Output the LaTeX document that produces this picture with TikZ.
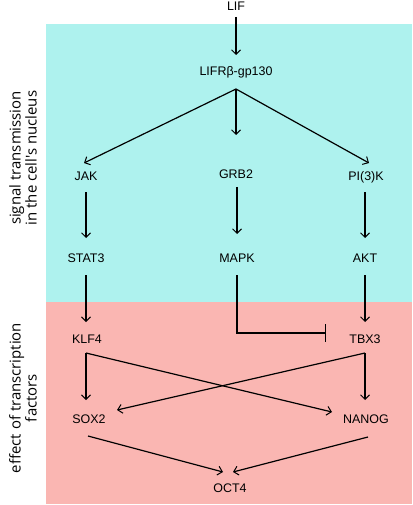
\documentclass[tikz,border=0pt]{standalone}
\usepackage{fontspec}
\setmainfont{Liberation Sans}
\newfontfamily\sidefont{Open Sans}
\usetikzlibrary{arrows.meta,calc}
\definecolor{cyanbg}{RGB}{174,242,238}
\definecolor{pinkbg}{RGB}{250,182,178}
\begin{document}
\begin{tikzpicture}[x=1bp,y=-1bp,
  lbl/.style={inner sep=0pt,text height=9bp,text depth=0pt,font=\fontsize{12.5}{14}\selectfont},
  side/.style={rotate=90,align=center,inner sep=0pt,font=\sidefont\fontsize{15}{12.5}\selectfont},
  conn/.style={line width=1.2bp,-{Straight Barb[length=4.5bp,width=9bp,line width=1bp]}},
  inhib/.style={line width=1.2bp,-{Bar[width=18bp,line width=1.4bp]}}]
\useasboundingbox (0,0) rectangle (412,505);
\fill[cyanbg] (46,24) rectangle (412,302);
\fill[pinkbg] (46,302) rectangle (412,504);
\node[side] (sideA) at (23,158) {signal transmission\\in the cell's nucleus};
\node[side] (sideB) at (23,398) {effect of transcription\\factors};
\node[lbl] (lif) at (236,6) {LIF};
\node[lbl] (lifr) at (236,71) {LIFRβ-gp130};
\node[lbl] (jak) at (86,176) {JAK};
\node[lbl] (grb) at (236,174) {GRB2};
\node[lbl] (pik) at (366,176) {PI(3)K};
\node[lbl] (stat) at (86,258) {STAT3};
\node[lbl] (mapk) at (237,258) {MAPK};
\node[lbl] (akt) at (365,258) {AKT};
\node[lbl] (klf) at (87,339) {KLF4};
\node[lbl] (tbx) at (365,339) {TBX3};
\node[lbl] (sox) at (89,419) {SOX2};
\node[lbl] (nanog) at (366,419) {NANOG};
\node[lbl] (oct) at (230,488) {OCT4};
\draw[conn] ($(lif)+(0,11)$) -- ($(lifr)+(0,-16)$);
\draw[conn] ($(lifr)+(0,18)$) -- ($(jak)+(-2,-13)$);
\draw[conn] ($(lifr)+(0,18)$) -- ($(grb)+(0,-39)$);
\draw[conn] ($(lifr)+(0,18)$) -- ($(pik)+(3,-13)$);
\draw[conn] ($(jak)+(0,16)$) -- ($(stat)+(0,-20)$);
\draw[conn] ($(grb)+(1,13)$) -- ($(mapk)+(0,-24)$);
\draw[conn] ($(pik)+(-1,16)$) -- ($(akt)+(0,-20)$);
\draw[conn] ($(stat)+(0,17)$) -- ($(klf)+(-1,-17)$);
\draw[conn] ($(akt)+(0,17)$) -- ($(tbx)+(0,-17)$);
\draw[inhib] ($(mapk)+(0,17)$) |- ($(tbx)+(-39,-6)$);
\draw[conn] ($(klf)+(-1,14)$) -- ($(sox)+(-3,-19)$);
\draw[conn] ($(klf)+(-1,14)$) -- ($(nanog)+(-34,-7)$);
\draw[conn] ($(tbx)+(0,14)$) -- ($(nanog)+(-1,-19)$);
\draw[conn] ($(tbx)+(0,14)$) -- ($(sox)+(28,-9)$);
\draw[conn] ($(sox)+(-1,17)$) -- ($(oct)+(-7,-16)$);
\draw[conn] ($(nanog)+(2,18)$) -- ($(oct)+(3,-16)$);
\end{tikzpicture}
\end{document}
